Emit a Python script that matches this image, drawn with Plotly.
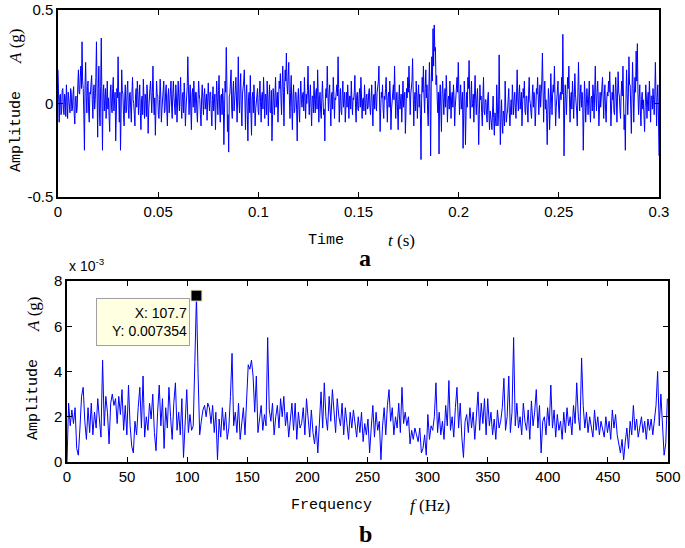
import numpy as np
import plotly.graph_objects as go

# señal en el tiempo (g), paso 0.0003 s, 0 - 0.3 s
dt = 0.0003
amp_t = [
    0.18, 0.02, -0.10, 0.04, 0.05, -0.06, -0.04, 0.07, 0.08, -0.03, -0.06, 0.05, 0.03, -0.07, 0.10, 0.01, -0.08, 0.06, 0.02, -0.04,
    -0.05, 0.08, 0.06, -0.04, -0.03, 0.05, 0.09, -0.06, -0.11, 0.03, 0.04, -0.05, -0.02, 0.10, 0.18, 0.06, 0.05, 0.14, 0.20, 0.08,
    0.33, 0.12, 0.08, -0.06, -0.25, 0.10, 0.22, 0.04, -0.05, 0.09, 0.12, -0.04, -0.10, 0.06, 0.05, 0.11, 0.15, 0.02, -0.08, 0.07,
    0.10, -0.03, 0.02, 0.14, 0.33, 0.06, -0.18, 0.08, 0.20, -0.05, -0.12, 0.09, 0.35, 0.04, -0.25, 0.06, 0.10, -0.04, 0.05, 0.08,
    -0.08, 0.05, 0.12, -0.03, 0.03, -0.07, -0.15, 0.06, 0.10, -0.02, -0.05, 0.08, 0.14, -0.04, 0.02, 0.06, -0.20, -0.05, 0.08, 0.03,
    0.25, 0.04, -0.10, 0.06, -0.25, -0.04, 0.18, 0.07, 0.05, -0.06, -0.12, 0.03, 0.10, -0.05, -0.04, 0.07, 0.12, -0.03, -0.08, 0.05,
    0.06, -0.03, -0.10, 0.05, 0.14, 0.02, 0.00, -0.06, -0.12, 0.04, 0.08, -0.02, 0.12, 0.05, -0.06, 0.03, 0.10, -0.05, -0.14, 0.02,
    0.04, -0.06, 0.13, 0.03, -0.08, 0.05, 0.02, -0.07, 0.10, 0.04, -0.16, -0.03, 0.06, 0.08, 0.12, -0.04, -0.05, 0.06, 0.20, 0.02,
    -0.06, 0.03, -0.17, -0.02, 0.12, 0.05, 0.04, -0.06, -0.08, 0.02, 0.13, 0.04, -0.10, -0.03, 0.05, 0.07, 0.12, -0.05, -0.04, 0.06,
    0.10, -0.03, -0.12, 0.04, 0.08, -0.05, 0.02, 0.07, 0.12, -0.02, -0.08, 0.05, 0.12, 0.03, -0.02, -0.06, 0.10, 0.04, -0.10, 0.02,
    0.12, 0.03, -0.04, 0.06, 0.14, -0.02, -0.08, 0.04, 0.06, -0.05, 0.11, 0.02, -0.12, -0.03, 0.04, 0.09, 0.25, 0.05, -0.06, 0.03,
    0.10, -0.04, -0.14, 0.05, 0.08, -0.02, 0.12, 0.03, -0.05, 0.06, 0.06, -0.04, -0.10, 0.02, 0.12, 0.05, 0.02, -0.06, -0.12, 0.03,
    0.10, 0.02, -0.06, 0.04, 0.08, -0.03, 0.02, 0.05, -0.09, -0.02, 0.11, 0.03, -0.04, 0.06, 0.06, -0.05, -0.12, 0.02, 0.09, -0.04,
    0.00, 0.05, -0.14, -0.04, 0.12, 0.03, -0.06, 0.07, 0.15, -0.03, -0.10, 0.04, 0.05, -0.06, 0.08, 0.02, -0.22, -0.05, 0.12, 0.06,
    0.30, 0.10, -0.15, -0.06, -0.26, 0.04, 0.05, 0.12, 0.18, -0.03, -0.08, 0.06, 0.12, -0.04, 0.00, 0.07, 0.14, -0.05, -0.10, 0.04,
    0.25, 0.02, -0.05, 0.08, 0.16, -0.04, -0.12, 0.05, 0.08, 0.12, 0.18, -0.02, -0.14, 0.05, 0.10, -0.06, -0.20, 0.03, 0.06, -0.05,
    0.15, -0.04, -0.17, 0.03, 0.06, -0.05, 0.10, 0.02, -0.12, -0.03, 0.02, 0.06, 0.08, -0.04, -0.06, 0.05, 0.12, 0.01, -0.10, 0.04,
    0.06, -0.03, 0.14, 0.04, -0.08, 0.05, 0.04, -0.06, 0.12, 0.03, -0.12, 0.02, 0.10, -0.04, -0.05, 0.07, -0.20, -0.06, 0.08, 0.03,
    -0.06, 0.04, 0.14, -0.02, 0.02, 0.06, -0.10, 0.05, 0.12, 0.08, 0.16, 0.02, -0.06, 0.10, 0.20, 0.06, -0.12, 0.09, 0.18, 0.12,
    0.27, 0.10, 0.05, 0.14, 0.22, 0.03, -0.08, 0.06, 0.15, -0.02, -0.14, 0.04, 0.10, -0.05, -0.04, 0.06, 0.06, -0.03, -0.20, 0.02,
    0.08, -0.03, -0.10, 0.04, 0.12, 0.02, -0.02, 0.05, 0.06, -0.04, 0.14, 0.03, -0.08, 0.05, 0.00, 0.07, 0.20, 0.04, -0.06, 0.03,
    0.10, -0.02, -0.12, 0.04, 0.04, -0.05, 0.12, 0.02, -0.05, 0.06, 0.08, -0.03, 0.18, 0.05, -0.10, 0.02, 0.06, -0.04, -0.08, 0.03,
    0.12, 0.02, -0.06, -0.03, -0.20, 0.04, 0.08, 0.03, 0.20, 0.06, -0.04, 0.05, 0.10, -0.02, -0.12, 0.04, 0.06, -0.03, 0.14, 0.05,
    -0.08, 0.03, 0.02, 0.06, 0.10, 0.04, 0.25, 0.08, -0.10, 0.03, 0.08, -0.04, -0.06, 0.05, 0.12, -0.02, 0.04, 0.06, -0.10, 0.02,
    0.06, -0.02, 0.10, 0.03, -0.08, 0.04, 0.04, -0.03, 0.12, 0.02, -0.06, 0.03, 0.02, 0.06, 0.15, -0.02, -0.10, 0.04, 0.06, -0.03,
    -0.04, 0.05, 0.08, -0.02, 0.14, 0.04, -0.08, 0.02, 0.03, -0.04, 0.10, 0.02, -0.06, 0.04, 0.05, -0.03, -0.02, 0.06, 0.08, -0.02,
    -0.06, 0.03, 0.10, -0.02, -0.12, 0.04, 0.05, -0.03, 0.12, 0.02, -0.04, 0.06, 0.08, 0.12, 0.20, 0.04, -0.15, -0.02, 0.06, 0.03,
    0.10, -0.03, -0.08, 0.04, 0.02, 0.08, 0.14, 0.02, -0.10, 0.03, 0.06, -0.02, 0.12, 0.04, -0.14, -0.03, 0.04, 0.06, 0.10, 0.02,
    0.20, 0.04, -0.08, 0.03, 0.06, -0.04, -0.14, 0.02, 0.10, -0.03, 0.02, 0.05, -0.10, 0.03, 0.12, -0.02, 0.04, 0.06, -0.16, -0.03,
    0.08, 0.03, 0.14, 0.06, 0.20, 0.08, -0.06, 0.05, 0.10, 0.12, 0.24, 0.06, -0.12, 0.02, 0.06, -0.04, 0.12, 0.03, -0.08, 0.04,
    0.10, -0.02, 0.05, -0.06, -0.30, 0.02, 0.14, 0.06, 0.20, 0.04, -0.05, 0.08, 0.18, 0.03, 0.10, -0.04, -0.12, 0.06, 0.22, 0.05,
    -0.28, 0.10, 0.25, 0.12, 0.40, 0.20, 0.42, 0.28, 0.30, 0.10, 0.15, 0.02, -0.05, 0.06, -0.27, 0.04, 0.10, -0.03, -0.15, 0.05,
    0.12, 0.03, -0.06, 0.04, 0.08, -0.02, 0.15, 0.05, -0.10, 0.02, 0.04, -0.03, 0.12, 0.04, -0.08, 0.03, 0.06, -0.02, 0.10, 0.03,
    -0.12, -0.02, 0.02, 0.05, 0.14, 0.06, 0.22, 0.08, -0.06, 0.04, 0.10, -0.03, 0.04, 0.06, -0.24, -0.04, 0.12, 0.02, -0.22, -0.05,
    0.06, -0.02, 0.14, 0.08, 0.23, 0.04, -0.08, 0.03, 0.12, -0.02, 0.00, 0.05, -0.10, 0.04, 0.15, 0.02, -0.06, 0.03, 0.08, -0.04,
    -0.22, -0.06, 0.10, 0.02, 0.04, -0.05, -0.12, 0.03, 0.14, -0.04, -0.06, 0.02, 0.02, -0.06, -0.10, 0.03, 0.06, -0.05, -0.14, -0.04,
    -0.06, -0.10, -0.14, -0.03, 0.04, -0.08, -0.17, -0.05, -0.08, -0.12, 0.10, -0.04, -0.12, -0.06, 0.26, 0.02, -0.22, -0.08, 0.02, -0.10,
    -0.16, -0.04, -0.06, -0.12, 0.12, -0.02, -0.10, -0.06, -0.04, 0.02, 0.08, -0.05, -0.12, -0.03, 0.02, -0.06, 0.10, 0.03, -0.06, 0.02,
    0.06, -0.02, -0.08, 0.04, 0.18, 0.03, -0.04, 0.05, 0.10, -0.03, 0.02, 0.06, -0.12, -0.02, 0.08, 0.03, 0.12, -0.04, -0.06, 0.04,
    0.04, -0.03, -0.10, 0.05, 0.14, 0.02, 0.00, -0.05, -0.08, 0.04, 0.10, -0.02, 0.06, 0.03, -0.12, -0.04, 0.08, 0.05, 0.14, 0.02,
    -0.06, 0.03, 0.10, -0.02, 0.04, 0.12, 0.27, 0.05, -0.10, 0.04, 0.12, -0.03, 0.02, -0.06, -0.22, -0.04, 0.08, 0.02, -0.14, -0.03,
    0.16, 0.04, -0.06, 0.05, 0.10, 0.06, 0.20, 0.03, -0.12, -0.02, 0.04, 0.06, 0.12, -0.03, -0.08, 0.04, 0.06, 0.02, 0.14, 0.05,
    0.37, 0.06, -0.28, -0.04, 0.10, 0.03, -0.06, 0.05, 0.14, 0.08, 0.20, 0.04, -0.10, 0.02, 0.06, -0.03, 0.12, 0.04, -0.08, 0.03,
    0.16, 0.05, 0.02, -0.04, -0.12, 0.03, 0.22, 0.06, -0.04, 0.05, 0.10, -0.02, 0.06, 0.02, -0.25, -0.06, 0.12, 0.04, -0.10, -0.02,
    0.08, 0.02, -0.06, 0.04, 0.12, -0.03, -0.10, 0.03, 0.04, -0.04, 0.10, 0.05, -0.08, 0.06, 0.20, 0.04, -0.04, 0.06, 0.12, 0.02,
    -0.12, -0.03, 0.06, -0.02, 0.02, 0.05, 0.14, 0.03, -0.08, 0.04, 0.10, -0.03, -0.10, 0.02, 0.06, 0.04, 0.12, 0.06, 0.17, 0.05,
    -0.12, -0.03, 0.06, 0.02, 0.10, -0.04, -0.06, 0.05, 0.14, 0.03, -0.10, 0.04, 0.17, 0.06, 0.04, -0.03, -0.08, 0.05, 0.12, 0.04,
    0.20, 0.03, -0.14, -0.06, -0.25, 0.02, 0.18, 0.06, -0.06, 0.04, 0.25, 0.10, 0.10, -0.03, -0.16, 0.05, 0.22, 0.08, -0.10, 0.04,
    0.14, 0.06, 0.28, 0.12, 0.32, 0.05, -0.06, 0.03, 0.10, -0.04, -0.12, 0.02, 0.06, -0.03, 0.02, -0.06, -0.15, -0.02, 0.10, 0.03,
    -0.08, 0.02, 0.06, -0.04, 0.12, 0.03, -0.10, 0.04, 0.04, -0.03, 0.08, 0.02, -0.06, 0.05, 0.22, 0.04, -0.12, 0.03, 0.10, -0.04,
    -0.28,
]

# espectro (x 10^-3 g), paso 107.7/80 Hz
df = 107.7 / 80
amp_f = [
    0.0, 2.6, 1.6, 2.3, 1.7, 2.4, 0.6, 0.3, 1.5, 2.9, 3.3, 1.8, 1.0, 2.4, 1.3, 2.6, 1.2, 2.2, 1.5, 2.8,
    1.9, 1.1, 4.5, 1.6, 2.9, 2.2, 0.8, 2.6, 3.0, 2.5, 2.8, 1.7, 2.9, 2.1, 3.2, 1.4, 2.5, 1.2, 3.4, 1.6,
    0.7, 0.4, 1.8, 1.2, 2.4, 3.3, 1.5, 3.8, 1.1, 2.0, 1.4, 2.6, 1.9, 3.0, 1.3, 0.5, 2.2, 3.4, 1.6, 2.8,
    0.6, 2.4, 1.5, 3.3, 2.0, 1.0, 2.6, 3.5, 1.4, 2.2, 1.2, 2.8, 0.2, 1.7, 3.2, 1.3, 2.1, 1.4, 1.6, 4.4,
    7.354, 3.9, 1.2, 1.8, 2.3, 2.5, 2.0, 2.6, 2.4, 1.7, 2.5, 1.3, 2.2, 0.1, 1.9, 1.1, 2.4, 1.4, 2.2, 1.0,
    1.5, 2.9, 4.8, 1.6, 2.2, 1.3, 2.6, 1.0, 1.8, 2.4, 1.2, 2.7, 4.3, 4.1, 4.5, 3.8, 2.2, 3.8, 1.3, 1.9,
    2.5, 1.4, 2.1, 1.6, 5.5, 2.3, 1.8, 2.6, 1.2, 2.0, 2.5, 1.5, 2.8, 2.0, 2.9, 1.6, 2.2, 1.1, 1.8, 2.6,
    1.4, 2.6, 1.0, 2.2, 1.5, 1.7, 2.4, 1.2, 2.8, 1.9, 1.1, 2.3, 1.3, 0.8, 1.6, 0.4, 1.9, 3.1, 1.5, 3.5,
    2.0, 1.4, 2.9, 1.8, 3.2, 2.1, 1.3, 2.8, 2.0, 1.6, 2.6, 1.2, 2.4, 1.7, 1.0, 2.2, 1.5, 2.3, 1.8, 1.1,
    2.0, 1.3, 2.2, 0.9, 1.7, 1.2, 1.9, 0.4, 1.5, 2.5, 1.1, 2.2, 1.4, 1.8, 0.1, 1.6, 2.4, 1.2, 2.5, 3.2,
    1.8, 2.4, 1.2, 2.0, 1.5, 2.6, 1.3, 3.3, 1.7, 2.2, 1.6, 2.0, 0.8, 1.4, 1.0, 1.5, 1.2, 0.9, 1.5, 0.4,
    0.6, 1.2, 0.3, 2.1, 1.0, 1.6, 1.4, 2.0, 3.5, 1.3, 2.2, 1.2, 1.8, 1.0, 2.5, 1.6, 3.6, 1.4, 2.0, 1.1,
    2.4, 3.3, 1.5, 2.6, 1.1, 0.2, 1.8, 2.1, 1.3, 2.4, 1.5, 2.2, 1.0, 2.0, 3.1, 1.4, 2.6, 1.7, 2.8, 1.2,
    2.8, 1.6, 2.2, 1.2, 1.9, 1.0, 2.3, 1.5, 1.8, 2.4, 3.7, 1.4, 2.0, 3.8, 1.3, 2.2, 5.5, 1.6, 2.6, 1.5,
    2.0, 1.2, 2.6, 1.8, 1.4, 2.3, 1.0, 2.7, 1.6, 2.2, 3.2, 1.5, 2.5, 0.4, 1.8, 2.0, 1.2, 2.4, 1.6, 3.4,
    1.5, 2.3, 1.1, 2.1, 1.4, 1.8, 1.0, 2.2, 1.3, 2.4, 1.6, 2.0, 1.2, 2.5, 1.7, 3.5, 2.0, 1.4, 4.6, 2.5,
    1.5, 2.2, 1.3, 2.0, 1.6, 1.1, 2.3, 1.4, 2.0, 1.2, 1.8, 1.5, 1.1, 2.0, 1.3, 1.8, 1.0, 2.3, 1.5, 2.1,
    1.2, 0.8, 0.4, 1.0, 0.1, 0.9, 1.5, 0.6, 1.8, 1.2, 2.5, 1.4, 1.9, 1.1, 1.6, 2.0, 1.3, 1.8, 1.0, 1.9,
    1.4, 1.9, 1.2, 2.0, 2.5, 4.0, 1.6, 3.0, 1.8, 0.3, 0.8, 2.8,
]

t_ticks = [0, 0.05, 0.1, 0.15, 0.2, 0.25, 0.3]
t_labels = ["0", "0.05", "0.1", "0.15", "0.2", "0.25", "0.3"]
f_ticks = [0, 50, 100, 150, 200, 250, 300, 350, 400, 450, 500]
a_ticks = [-0.5, 0, 0.5]
a_labels = ["-0.5", "0", "0.5"]
s_ticks = [0, 2, 4, 6, 8]

peak_f = 107.7
peak_a = 7.354

t = np.arange(len(amp_t)) * dt
f = np.arange(len(amp_f)) * df

W, H = 685, 548
def px(x):
    return x / W
def py(y):
    return 1 - y / H

tick_font = dict(family="Liberation Sans", size=15, color="black")
mono = "Liberation Mono"
serif = "Liberation Serif"

fig = go.Figure()
fig.add_trace(go.Scatter(x=t, y=amp_t, mode="lines",
                         line=dict(color="#0000ff", width=1),
                         xaxis="x", yaxis="y", showlegend=False))
fig.add_trace(go.Scatter(x=f, y=amp_f, mode="lines",
                         line=dict(color="#0000ff", width=1),
                         xaxis="x2", yaxis="y2", showlegend=False))
fig.add_trace(go.Scatter(x=[peak_f], y=[peak_a], mode="markers",
                         marker=dict(symbol="square", size=11, color="black",
                                     line=dict(color="#f0ecc8", width=1)),
                         xaxis="x2", yaxis="y2", showlegend=False,
                         cliponaxis=False))

axis_style = dict(showline=True, linecolor="black", linewidth=1.5, mirror="ticks",
                  ticks="inside", ticklen=5, tickwidth=1, tickcolor="black",
                  showgrid=False, zeroline=False, tickfont=tick_font)

fig.update_layout(
    width=W, height=H,
    margin=dict(l=0, r=0, t=0, b=0, autoexpand=False),
    paper_bgcolor="white", plot_bgcolor="white",
    xaxis=dict(domain=[px(58), px(659)], range=[0, 0.3], tickvals=t_ticks,
               ticktext=t_labels, anchor="y", **axis_style),
    yaxis=dict(domain=[py(197), py(10)], range=[-0.5, 0.5], tickvals=a_ticks,
               ticktext=a_labels, anchor="x", **axis_style),
    xaxis2=dict(domain=[px(67), px(668)], range=[0, 500], tickvals=f_ticks,
                anchor="y2", **axis_style),
    yaxis2=dict(domain=[py(462), py(281)], range=[0, 8], tickvals=s_ticks,
                anchor="x2", **axis_style),
)

ann = []
def add_text(text, x, y, family, size, angle=0, **kw):
    ann.append(dict(text=text, x=px(x), y=py(y), xref="paper", yref="paper",
                    xanchor="center", yanchor="middle",
                    showarrow=False, textangle=angle,
                    font=dict(family=family, size=size, color="black"), **kw))

# títulos de ejes
add_text("Amplitude", 16, 132, mono, 15, -90)
add_text("<i>A</i> (g)", 16, 46, serif, 17, -90)
add_text("Time", 326, 240, mono, 15)
add_text("<i>t</i> (s)", 401, 240, serif, 17)
add_text("<b>a</b>", 365, 258, serif, 24)

add_text("Amplitude", 33, 400, mono, 15, -90)
add_text("<i>A</i> (g)", 33, 315, serif, 17, -90)
add_text("Frequency", 331, 505, mono, 15)
add_text("<i>f</i> (Hz)", 430, 505, serif, 17)
add_text("<b>b</b>", 365, 534, serif, 24)

add_text("x 10<sup>-3</sup>", 87, 265, "Liberation Sans", 14)

# cuadro del datatip
ann.append(dict(text="X: 107.7<br>Y: 0.007354", x=px(143), y=py(322),
                xref="paper", yref="paper", xanchor="center", yanchor="middle",
                showarrow=False, align="right",
                width=88, height=42, bgcolor="#ffffe1", bordercolor="#a0a0a0",
                borderwidth=1, borderpad=2,
                font=dict(family="Liberation Sans", size=14, color="black")))

fig.update_layout(annotations=ann)
# sin margen en la página para que la figura ocupe toda la ventana
fig.write_html("out.html", config={"displayModeBar": False},
               post_script="document.body.style.margin='0px';")
